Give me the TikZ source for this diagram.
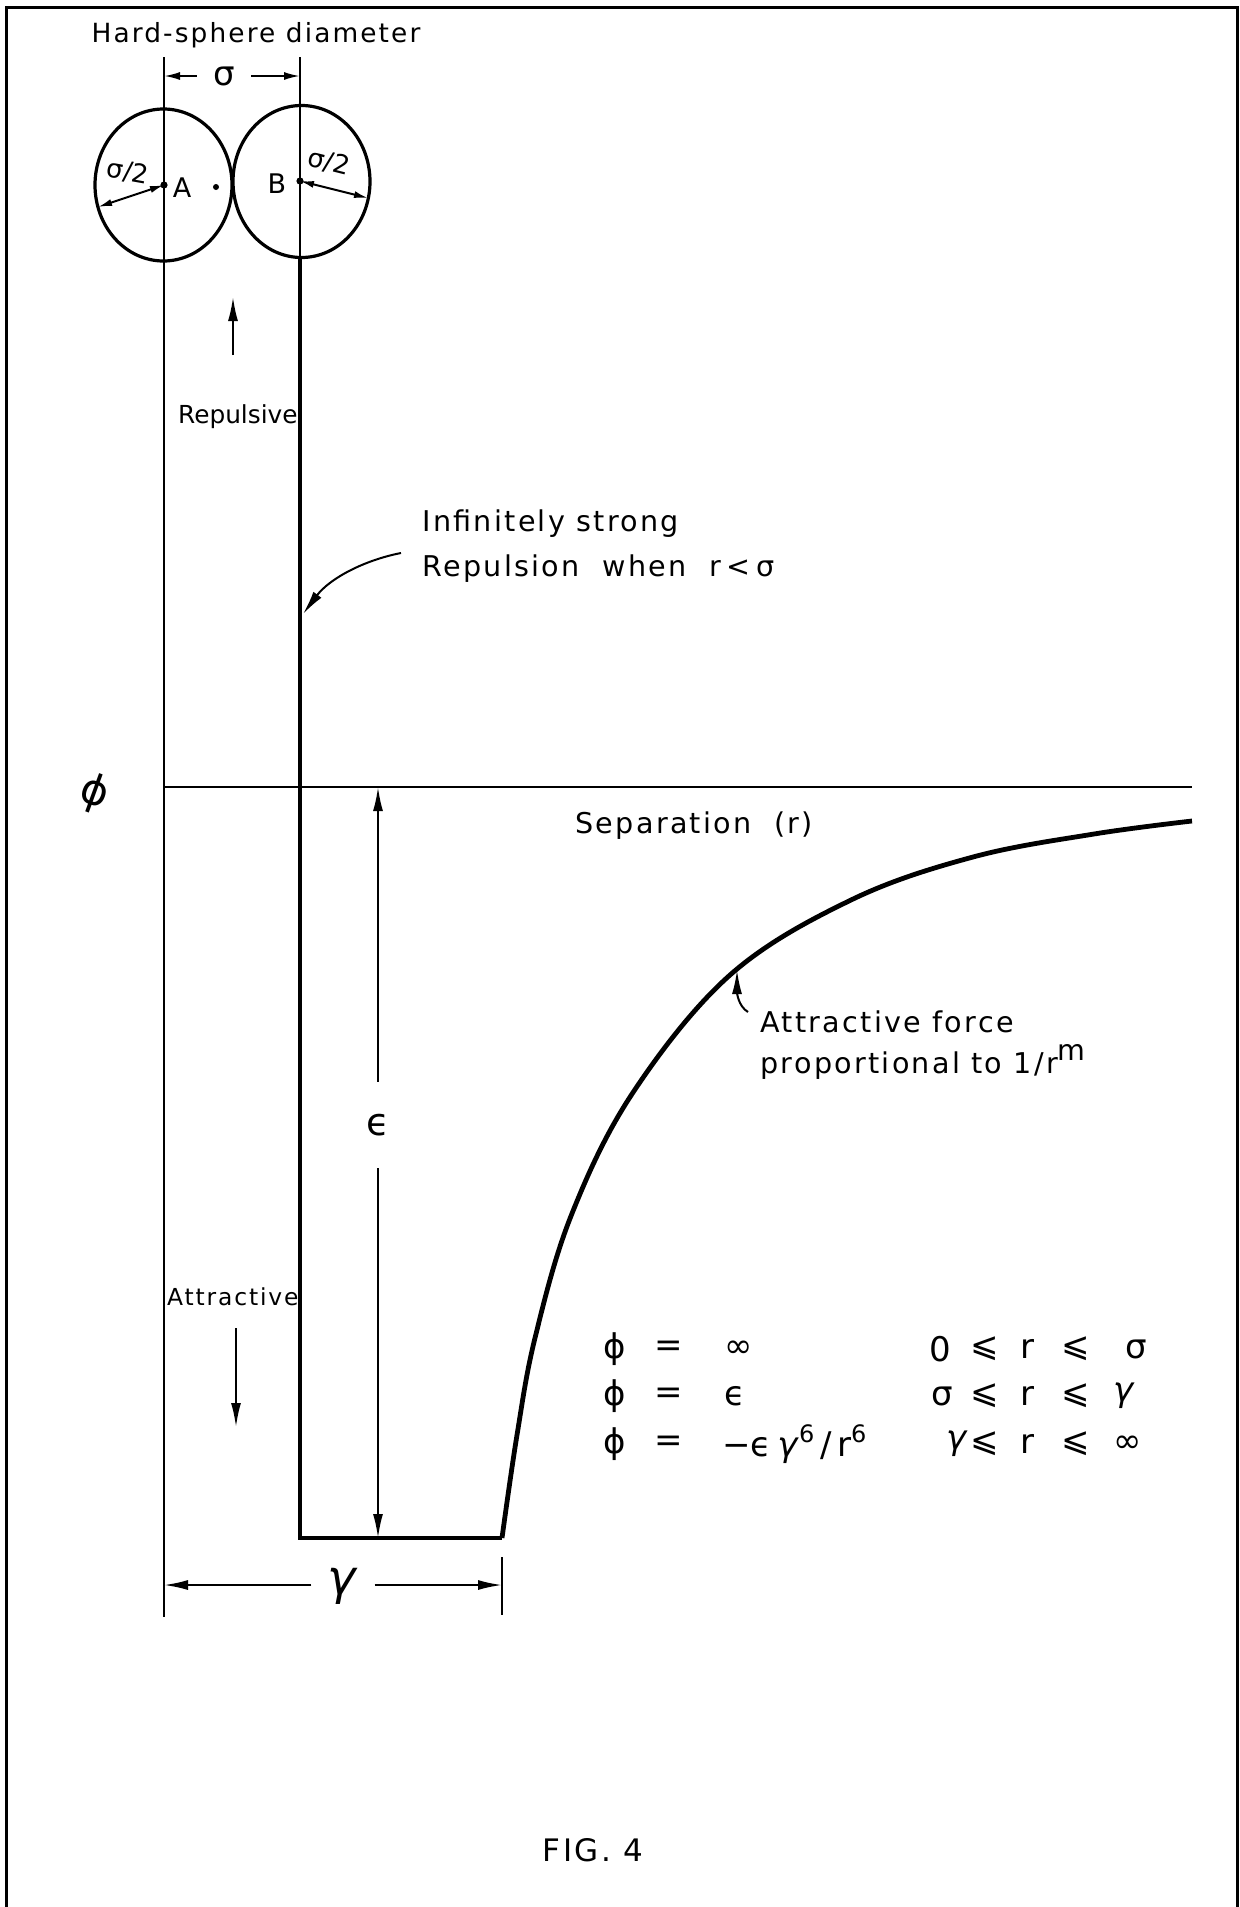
\documentclass[tikz,border=0pt]{standalone}
\usepackage{fontspec}
\setmainfont{DejaVu Sans}
\newfontfamily\lab[LetterSpace=8]{DejaVu Sans}
\usetikzlibrary{arrows.meta,shapes.geometric}
\newcommand{\gm}{\textit{γ}}
\begin{document}
\begin{tikzpicture}[x=0.5pt,y=-0.5pt,
  thinln/.style={line width=1pt},
  thickln/.style={line width=2.2pt},
  bigtip/.style={-{Latex[length=12pt,width=5pt]}},
  dimtip/.style={-{Latex[length=8pt,width=4pt]}},
  smalltips/.style={{Latex[length=7pt,width=3.5pt]}-{Latex[length=7pt,width=3.5pt]}},
  txt/.style={inner sep=0pt, font=\lab\fontsize{14.3pt}{17pt}\selectfont},
  smalltxt/.style={inner sep=0pt, font=\fontsize{12pt}{14pt}\selectfont},
  sym/.style={inner sep=0pt, font=\fontsize{17pt}{19pt}\selectfont},
  sphere/.style={ellipse, draw, line width=1.6pt, minimum width=68.5pt, minimum height=76pt, inner sep=0pt},
]
\useasboundingbox (0,0) rectangle (1239,1907);
\fill[white] (0,0) rectangle (1239,1907);
\draw[line width=1.5pt] (6,1907) -- (6,7) -- (1237,7) -- (1237,1907);

\node[txt, font=\lab\fontsize{13.2pt}{15pt}\selectfont] (hsd) at (256,35) {Hard-sphere diameter};

% spheres
\node[sphere] (cA) at (163.5,185) {};
\node[sphere] (cB) at (301.5,181.5) {};
\coordinate (cenA) at (164,185);
\coordinate (cenB) at (300,181);
\coordinate (midpt) at (216,187);
\fill (cenA) circle (1.8pt);
\fill (cenB) circle (1.8pt);
\fill (midpt) circle (1.5pt);

% vertical lines
\coordinate (Atop) at (164,57);
\coordinate (Abot) at (164,1617);
\draw[thinln] (Atop) -- (Abot);
\coordinate (Btop) at (300,57);
\coordinate (Bmid) at (300,258);
\coordinate (Bbot) at (300,1538);
\coordinate (Wr) at (502,1538);
\draw[thinln] (Btop) -- (Bmid);
\draw[thickln, line join=miter] (Bmid) -- (Bbot) -- (Wr);

% potential curve
\draw[line width=2.4pt] plot[smooth, tension=0.6] coordinates {(502,1538) (517,1435) (535,1338) (571,1216) (632,1094) (730,975) (851,900) (973,857) (1094,834) (1192,821)};

% axis
\coordinate (ax0) at (164,787);
\coordinate (ax1) at (1192,787);
\draw[line width=1.4pt] (ax0) -- (ax1);
\node[sym, font=\fontsize{21pt}{23pt}\selectfont, rotate=-20] (phiax) at (94,793) {ϕ};

% sigma dimension
\node[sym, inner xsep=8pt] (sig) at (224,76) {σ};
\coordinate (sigL) at (164,76);
\coordinate (sigR) at (300,76);
\draw[thinln, dimtip] (sig.west) -- (sigL);
\draw[thinln, dimtip] (sig.east) -- (sigR);

% sigma/2 radii
\coordinate (eA) at (98,207);
\coordinate (eB) at (368,198);
\draw[thinln, smalltips] (eA) -- (cenA);
\draw[thinln, smalltips] (cenB) -- (eB);
\node[smalltxt, font=\fontsize{13pt}{15pt}\selectfont, rotate=-10] (sA) at (128,172) {σ/2};
\node[smalltxt, font=\fontsize{13pt}{15pt}\selectfont, rotate=-14] (sB) at (329,162) {σ/2};
\node[smalltxt, font=\fontsize{13.5pt}{15pt}\selectfont] (lA) at (182,188) {A};
\node[smalltxt, font=\fontsize{13.5pt}{15pt}\selectfont] (lB) at (277,184) {B};

% repulsive
\coordinate (rp1) at (233,355);
\coordinate (rp2) at (233,297);
\draw[thinln, bigtip] (rp1) -- (rp2);
\node[smalltxt, font=\fontsize{12.4pt}{15pt}\selectfont, anchor=east] (rep) at (298,417) {Repulsive};

% infinitely strong
\node[txt, anchor=west] (inf1) at (422,524) {Infinitely strong};
\node[txt, anchor=west] (inf2) at (422,569) {Repulsion\ \ when\ \ r\hspace{3pt}<\hspace{3pt}σ};
\coordinate (ia0) at (401,553);
\coordinate (ia1) at (303,614);
\draw[thinln, bigtip] (ia0) .. controls (365,560) and (330,578) .. (ia1);

% epsilon
\node[sym, inner ysep=16pt, font=\fontsize{19pt}{21pt}\selectfont] (eps) at (378,1125) {ϵ};
\coordinate (epsT) at (378,787);
\coordinate (epsB) at (378,1538);
\draw[thinln, bigtip] (eps.north) -- (epsT);
\draw[thinln, bigtip] (eps.south) -- (epsB);

% separation
\node[txt, anchor=west] (sep) at (575,826) {Separation\ \ (r)};

% attractive force
\node[txt, anchor=west] (af1) at (760,1022) {Attractive force};
\node[txt, anchor=west] (af2) at (760,1062) {proportional to 1/r\raisebox{0.8ex}{m}};
\coordinate (af0) at (748,1012);
\coordinate (afT) at (737,970);
\draw[thinln, bigtip] (af0) .. controls (738,1006) and (737,992) .. (afT);

% attractive
\node[txt, font=\lab\fontsize{11.7pt}{14pt}\selectfont, anchor=east] (att) at (299,1297) {Attractive};
\coordinate (at1) at (236,1328);
\coordinate (at2) at (236,1427);
\draw[thinln, bigtip] (at1) -- (at2);

% gamma dimension
\node[sym, inner xsep=8pt, font=\fontsize{24pt}{26pt}\selectfont] (gam) at (343,1586) {\gm};
\coordinate (gL) at (164,1585);
\coordinate (gR) at (502,1585);
\coordinate (gR1) at (502,1557);
\coordinate (gR2) at (502,1615);
\draw[thinln] (gR1) -- (gR2);
\draw[thinln, bigtip] (gam.west |- gL) -- (gL);
\draw[thinln, bigtip] (gam.east |- gR) -- (gR);

% equations
\node[sym] (e1a) at (615,1349) {ϕ};
\node[sym] (e1b) at (669,1349) {=};
\node[sym, anchor=west] (e1c) at (724,1349) {∞};
\node[sym] (e2a) at (615,1396) {ϕ};
\node[sym] (e2b) at (669,1396) {=};
\node[sym, anchor=west] (e2c) at (724,1396) {ϵ};
\node[sym] (e3a) at (615,1444) {ϕ};
\node[sym] (e3b) at (669,1444) {=};
\node[sym, anchor=west] (e3c) at (722,1444) {−ϵ\,\gm\raisebox{0.75ex}{\fontsize{12pt}{14pt}\selectfont 6}\,/\,r\raisebox{0.75ex}{\fontsize{12pt}{14pt}\selectfont 6}};

\node[sym] (r1a) at (940,1349) {0};
\node[sym] (r1b) at (985,1349) {⩽};
\node[sym] (r1c) at (1027,1349) {r};
\node[sym] (r1d) at (1076,1349) {⩽};
\node[sym] (r1e) at (1136,1349) {σ};
\node[sym] (r2a) at (942,1396) {σ};
\node[sym] (r2b) at (985,1396) {⩽};
\node[sym] (r2c) at (1027,1396) {r};
\node[sym] (r2d) at (1076,1396) {⩽};
\node[sym] (r2e) at (1124,1396) {\gm};
\node[sym] (r3a) at (957,1444) {\gm};
\node[sym] (r3b) at (985,1444) {⩽};
\node[sym] (r3c) at (1027,1444) {r};
\node[sym] (r3d) at (1076,1444) {⩽};
\node[sym] (r3e) at (1128,1444) {∞};

% caption
\node[txt, font=\lab\fontsize{15.5pt}{17pt}\selectfont] (fig) at (593,1850) {FIG. 4};
\end{tikzpicture}
\end{document}
